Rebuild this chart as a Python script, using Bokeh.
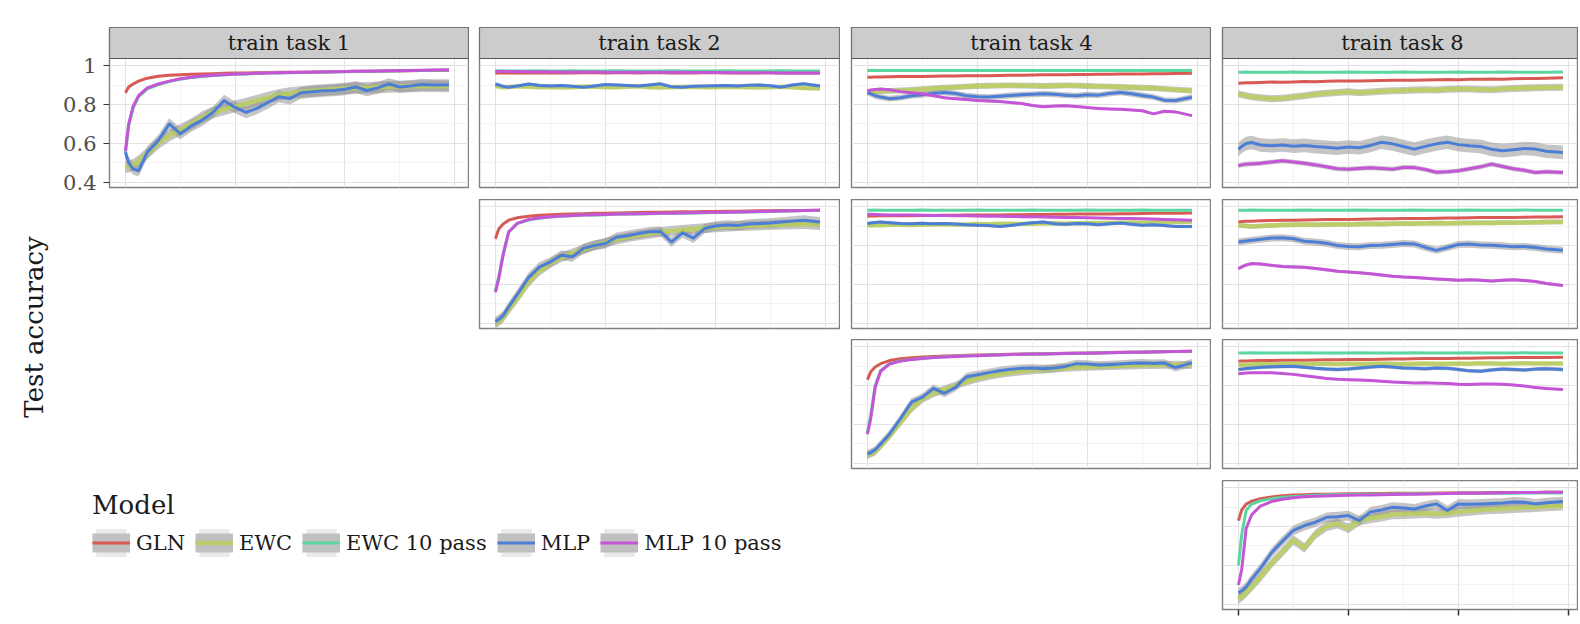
import numpy as np
from bokeh.plotting import figure
from bokeh.models import (Range1d, FixedTicker, Spacer, Legend, LegendItem, ColumnDataSource,
                          BoxAnnotation, Label, CustomLabelingPolicy)
from bokeh.layouts import row, column
from bokeh.embed import file_html
from bokeh.resources import INLINE
from bokeh.core.properties import value

# ---------------- data ----------------
MODELS = ["GLN", "EWC", "EWC 10 pass", "MLP", "MLP 10 pass"]
COLORS = ["#d85a55", "#b8cf5a", "#5cd6a0", "#4c7ed6", "#c455d6"]
TRAIN_TASKS = ["train task 1", "train task 2", "train task 4", "train task 8"]
Y_TICKS = [0.4, 0.6, 0.8, 1.0]
Y_TICK_LABELS = ["0.4", "0.6", "0.8", "1"]
Y_MINOR = [0.5, 0.7, 0.9]
X_TICKS = [0, 1, 2, 3]
X_MINOR = [0.5, 1.5, 2.5]

X = [0, 0.03, 0.07, 0.12, 0.2, 0.3, 0.4, 0.5,
     0.6, 0.7, 0.8, 0.9, 1.0, 1.1, 1.2, 1.3,
     1.4, 1.5, 1.6, 1.7, 1.8, 1.9, 2.0, 2.1,
     2.2, 2.3, 2.4, 2.5, 2.6, 2.7, 2.8, 2.95]

# test task 1 / train task 1
GLN_11 = [0.860, 0.890, 0.905, 0.920, 0.935, 0.945, 0.950, 0.953,
          0.955, 0.957, 0.958, 0.960, 0.961, 0.962, 0.963, 0.964,
          0.965, 0.966, 0.966, 0.967, 0.968, 0.968, 0.969, 0.970,
          0.970, 0.971, 0.972, 0.972, 0.973, 0.974, 0.974, 0.975]
EWC_11 = [0.480, 0.480, 0.490, 0.510, 0.550, 0.600, 0.640, 0.670,
          0.700, 0.735, 0.760, 0.775, 0.790, 0.805, 0.820, 0.835,
          0.850, 0.858, 0.864, 0.870, 0.874, 0.878, 0.882, 0.884,
          0.886, 0.888, 0.890, 0.892, 0.893, 0.894, 0.894, 0.893]
EWC10_11 = [0.550, 0.690, 0.780, 0.840, 0.880, 0.902, 0.918, 0.930,
            0.938, 0.944, 0.949, 0.952, 0.955, 0.957, 0.959, 0.961,
            0.962, 0.963, 0.964, 0.965, 0.966, 0.967, 0.968, 0.969,
            0.970, 0.971, 0.972, 0.973, 0.974, 0.975, 0.976, 0.977]
MLP_11 = [0.555, 0.500, 0.470, 0.460, 0.555, 0.615, 0.700, 0.650,
          0.690, 0.720, 0.760, 0.820, 0.785, 0.760, 0.780, 0.810,
          0.840, 0.830, 0.860, 0.865, 0.870, 0.872, 0.878, 0.890,
          0.872, 0.885, 0.905, 0.890, 0.895, 0.902, 0.900, 0.900]
MLP10_11 = [0.560, 0.700, 0.790, 0.845, 0.885, 0.905, 0.920, 0.932,
            0.940, 0.946, 0.950, 0.953, 0.956, 0.958, 0.960, 0.962,
            0.963, 0.964, 0.965, 0.966, 0.967, 0.968, 0.969, 0.970,
            0.971, 0.972, 0.973, 0.974, 0.975, 0.976, 0.977, 0.978]
SD_11 = [0.004, 0.030, 0.004, 0.030, 0.004]

# test task 1 / train task 2
GLN_12 = [0.960, 0.961, 0.961, 0.962, 0.961, 0.962, 0.962, 0.963,
          0.962, 0.962, 0.963, 0.963, 0.962, 0.963, 0.963, 0.962,
          0.963, 0.963, 0.962, 0.963, 0.962, 0.963, 0.963, 0.962,
          0.963, 0.962, 0.962, 0.963, 0.962, 0.962, 0.962, 0.961]
EWC_12 = [0.895, 0.892, 0.888, 0.890, 0.893, 0.891, 0.889, 0.890,
          0.887, 0.889, 0.892, 0.891, 0.889, 0.888, 0.891, 0.893,
          0.889, 0.887, 0.889, 0.891, 0.890, 0.888, 0.889, 0.891,
          0.890, 0.888, 0.887, 0.889, 0.891, 0.888, 0.884, 0.882]
EWC10_12 = [0.972, 0.972, 0.973, 0.972, 0.972, 0.972, 0.973, 0.972,
            0.972, 0.973, 0.972, 0.972, 0.972, 0.973, 0.972, 0.972,
            0.972, 0.972, 0.973, 0.972, 0.972, 0.972, 0.972, 0.973,
            0.972, 0.972, 0.972, 0.972, 0.973, 0.972, 0.972, 0.972]
MLP_12 = [0.905, 0.900, 0.893, 0.889, 0.895, 0.905, 0.898, 0.895,
          0.897, 0.893, 0.889, 0.895, 0.902, 0.900, 0.897, 0.895,
          0.900, 0.906, 0.891, 0.889, 0.893, 0.895, 0.896, 0.897,
          0.895, 0.899, 0.900, 0.896, 0.889, 0.900, 0.906, 0.895]
MLP10_12 = [0.970, 0.970, 0.969, 0.969, 0.969, 0.968, 0.968, 0.968,
            0.967, 0.967, 0.967, 0.967, 0.966, 0.966, 0.966, 0.966,
            0.965, 0.965, 0.965, 0.965, 0.964, 0.964, 0.964, 0.964,
            0.963, 0.963, 0.963, 0.963, 0.962, 0.962, 0.962, 0.961]
SD_12 = [0.004, 0.008, 0.003, 0.008, 0.004]

# test task 1 / train task 4
GLN_13 = [0.940, 0.940, 0.941, 0.941, 0.942, 0.943, 0.944, 0.944,
          0.945, 0.946, 0.946, 0.947, 0.948, 0.948, 0.949, 0.950,
          0.950, 0.951, 0.952, 0.952, 0.953, 0.954, 0.954, 0.955,
          0.955, 0.956, 0.957, 0.957, 0.958, 0.958, 0.959, 0.960]
EWC_13 = [0.862, 0.864, 0.866, 0.868, 0.870, 0.872, 0.875, 0.878,
          0.882, 0.886, 0.889, 0.892, 0.895, 0.896, 0.897, 0.898,
          0.897, 0.896, 0.895, 0.896, 0.898, 0.897, 0.895, 0.893,
          0.892, 0.890, 0.888, 0.886, 0.884, 0.880, 0.876, 0.872]
EWC10_13 = [0.974, 0.974, 0.975, 0.974, 0.974, 0.974, 0.975, 0.974,
            0.974, 0.974, 0.975, 0.974, 0.974, 0.974, 0.974, 0.975,
            0.974, 0.974, 0.974, 0.975, 0.974, 0.974, 0.974, 0.974,
            0.975, 0.974, 0.974, 0.974, 0.975, 0.974, 0.974, 0.974]
MLP_13 = [0.863, 0.855, 0.845, 0.838, 0.830, 0.835, 0.845, 0.850,
          0.858, 0.862, 0.856, 0.845, 0.840, 0.838, 0.842, 0.846,
          0.850, 0.852, 0.855, 0.852, 0.848, 0.845, 0.850, 0.848,
          0.856, 0.862, 0.855, 0.846, 0.838, 0.822, 0.820, 0.837]
MLP10_13 = [0.871, 0.874, 0.877, 0.880, 0.876, 0.866, 0.860, 0.855,
            0.845, 0.835, 0.830, 0.825, 0.820, 0.818, 0.815, 0.810,
            0.805, 0.795, 0.788, 0.792, 0.794, 0.790, 0.784, 0.780,
            0.777, 0.775, 0.772, 0.768, 0.752, 0.765, 0.762, 0.743]
SD_13 = [0.004, 0.015, 0.003, 0.015, 0.006]

# test task 1 / train task 8
GLN_14 = [0.909, 0.910, 0.911, 0.912, 0.913, 0.915, 0.914, 0.916,
          0.918, 0.917, 0.919, 0.920, 0.921, 0.920, 0.922, 0.923,
          0.924, 0.925, 0.924, 0.926, 0.927, 0.928, 0.927, 0.929,
          0.930, 0.931, 0.930, 0.932, 0.933, 0.934, 0.935, 0.937]
EWC_14 = [0.855, 0.850, 0.845, 0.840, 0.835, 0.830, 0.832, 0.838,
          0.845, 0.852, 0.858, 0.862, 0.865, 0.860, 0.864, 0.868,
          0.870, 0.872, 0.874, 0.876, 0.874, 0.878, 0.880, 0.879,
          0.877, 0.876, 0.879, 0.882, 0.884, 0.886, 0.887, 0.889]
EWC10_14 = [0.966, 0.966, 0.967, 0.966, 0.966, 0.966, 0.966, 0.967,
            0.966, 0.966, 0.966, 0.966, 0.967, 0.966, 0.966, 0.966,
            0.966, 0.967, 0.966, 0.966, 0.966, 0.966, 0.967, 0.966,
            0.966, 0.966, 0.967, 0.966, 0.966, 0.966, 0.966, 0.967]
MLP_14 = [0.570, 0.585, 0.600, 0.605, 0.592, 0.588, 0.592, 0.586,
          0.590, 0.584, 0.580, 0.576, 0.582, 0.578, 0.590, 0.606,
          0.598, 0.584, 0.571, 0.585, 0.598, 0.606, 0.594, 0.588,
          0.585, 0.570, 0.563, 0.568, 0.574, 0.571, 0.560, 0.554]
MLP10_14 = [0.486, 0.490, 0.494, 0.495, 0.498, 0.505, 0.511, 0.505,
            0.498, 0.490, 0.480, 0.470, 0.468, 0.472, 0.475, 0.472,
            0.468, 0.477, 0.476, 0.466, 0.452, 0.455, 0.460, 0.470,
            0.480, 0.494, 0.482, 0.470, 0.462, 0.451, 0.455, 0.451]
SD_14 = [0.004, 0.018, 0.003, 0.035, 0.012]

# test task 2 / train task 2
GLN_22 = [0.835, 0.885, 0.910, 0.930, 0.942, 0.950, 0.955, 0.958,
          0.960, 0.962, 0.963, 0.965, 0.966, 0.967, 0.968, 0.969,
          0.970, 0.971, 0.972, 0.973, 0.973, 0.974, 0.975, 0.976,
          0.976, 0.977, 0.978, 0.978, 0.979, 0.980, 0.980, 0.981]
EWC_22 = [0.400, 0.410, 0.430, 0.470, 0.530, 0.610, 0.670, 0.710,
          0.740, 0.760, 0.780, 0.800, 0.815, 0.830, 0.842, 0.852,
          0.860, 0.868, 0.875, 0.880, 0.885, 0.889, 0.893, 0.896,
          0.899, 0.901, 0.903, 0.905, 0.907, 0.908, 0.910, 0.905]
EWC10_22 = [0.570, 0.640, 0.760, 0.868, 0.913, 0.931, 0.940, 0.946,
            0.950, 0.953, 0.956, 0.957, 0.958, 0.960, 0.961, 0.962,
            0.963, 0.964, 0.965, 0.966, 0.967, 0.968, 0.969, 0.970,
            0.971, 0.972, 0.973, 0.975, 0.976, 0.977, 0.979, 0.980]
MLP_22 = [0.410, 0.420, 0.440, 0.485, 0.550, 0.635, 0.690, 0.715,
          0.750, 0.742, 0.785, 0.800, 0.810, 0.842, 0.850, 0.861,
          0.870, 0.872, 0.818, 0.865, 0.838, 0.887, 0.900, 0.905,
          0.902, 0.910, 0.913, 0.915, 0.920, 0.925, 0.930, 0.921]
MLP10_22 = [0.560, 0.630, 0.750, 0.870, 0.915, 0.933, 0.942, 0.947,
            0.951, 0.954, 0.957, 0.958, 0.959, 0.961, 0.962, 0.963,
            0.964, 0.965, 0.966, 0.967, 0.968, 0.969, 0.970, 0.971,
            0.972, 0.973, 0.974, 0.976, 0.977, 0.978, 0.980, 0.981]
SD_22 = [0.004, 0.025, 0.004, 0.025, 0.004]

# test task 2 / train task 4
GLN_23 = [0.950, 0.951, 0.951, 0.952, 0.952, 0.953, 0.953, 0.954,
          0.954, 0.955, 0.955, 0.956, 0.956, 0.957, 0.957, 0.958,
          0.958, 0.959, 0.959, 0.960, 0.960, 0.961, 0.961, 0.962,
          0.962, 0.963, 0.963, 0.964, 0.965, 0.965, 0.966, 0.967]
EWC_23 = [0.904, 0.903, 0.905, 0.904, 0.906, 0.907, 0.905, 0.906,
          0.908, 0.909, 0.907, 0.908, 0.910, 0.909, 0.911, 0.912,
          0.910, 0.912, 0.913, 0.914, 0.912, 0.914, 0.915, 0.916,
          0.915, 0.917, 0.918, 0.917, 0.919, 0.920, 0.920, 0.921]
EWC10_23 = [0.981, 0.981, 0.982, 0.981, 0.981, 0.981, 0.981, 0.982,
            0.981, 0.981, 0.981, 0.981, 0.982, 0.981, 0.981, 0.981,
            0.981, 0.982, 0.981, 0.981, 0.981, 0.981, 0.982, 0.981,
            0.981, 0.981, 0.981, 0.982, 0.981, 0.981, 0.981, 0.981]
MLP_23 = [0.913, 0.915, 0.918, 0.920, 0.917, 0.913, 0.912, 0.914,
          0.911, 0.913, 0.910, 0.906, 0.904, 0.902, 0.898, 0.903,
          0.910, 0.917, 0.920, 0.912, 0.909, 0.913, 0.911, 0.907,
          0.912, 0.915, 0.909, 0.904, 0.906, 0.902, 0.898, 0.897]
MLP10_23 = [0.960, 0.960, 0.959, 0.958, 0.957, 0.957, 0.956, 0.955,
            0.954, 0.954, 0.953, 0.952, 0.951, 0.950, 0.950, 0.949,
            0.948, 0.947, 0.946, 0.945, 0.944, 0.943, 0.942, 0.941,
            0.940, 0.939, 0.938, 0.937, 0.936, 0.934, 0.932, 0.930]
SD_23 = [0.003, 0.008, 0.003, 0.008, 0.004]

# test task 2 / train task 8
GLN_24 = [0.921, 0.923, 0.924, 0.925, 0.927, 0.928, 0.929, 0.930,
          0.931, 0.932, 0.933, 0.934, 0.934, 0.935, 0.936, 0.937,
          0.937, 0.938, 0.939, 0.939, 0.940, 0.941, 0.941, 0.942,
          0.943, 0.943, 0.944, 0.944, 0.945, 0.946, 0.946, 0.947]
EWC_24 = [0.904, 0.902, 0.900, 0.898, 0.900, 0.903, 0.905, 0.906,
          0.907, 0.906, 0.908, 0.909, 0.908, 0.910, 0.911, 0.910,
          0.912, 0.913, 0.912, 0.914, 0.915, 0.914, 0.915, 0.916,
          0.917, 0.916, 0.918, 0.917, 0.918, 0.919, 0.920, 0.921]
EWC10_24 = [0.981, 0.981, 0.981, 0.982, 0.981, 0.981, 0.981, 0.981,
            0.982, 0.981, 0.981, 0.981, 0.981, 0.982, 0.981, 0.981,
            0.981, 0.981, 0.982, 0.981, 0.981, 0.981, 0.981, 0.982,
            0.981, 0.981, 0.981, 0.981, 0.982, 0.981, 0.981, 0.981]
MLP_24 = [0.818, 0.820, 0.823, 0.827, 0.832, 0.838, 0.840, 0.835,
          0.822, 0.818, 0.812, 0.800, 0.795, 0.793, 0.800, 0.801,
          0.805, 0.810, 0.808, 0.790, 0.775, 0.790, 0.805, 0.807,
          0.803, 0.801, 0.798, 0.793, 0.795, 0.790, 0.782, 0.775]
MLP10_24 = [0.681, 0.690, 0.700, 0.707, 0.705, 0.698, 0.692, 0.690,
            0.688, 0.682, 0.675, 0.668, 0.664, 0.660, 0.655, 0.648,
            0.642, 0.638, 0.636, 0.632, 0.628, 0.625, 0.621, 0.624,
            0.622, 0.618, 0.621, 0.624, 0.620, 0.615, 0.605, 0.595]
SD_24 = [0.004, 0.012, 0.003, 0.018, 0.008]

# test task 4 / train task 4
GLN_33 = [0.830, 0.870, 0.895, 0.912, 0.928, 0.937, 0.942, 0.946,
          0.949, 0.951, 0.953, 0.955, 0.957, 0.958, 0.959, 0.960,
          0.961, 0.962, 0.963, 0.964, 0.965, 0.966, 0.967, 0.968,
          0.969, 0.970, 0.971, 0.972, 0.973, 0.974, 0.975, 0.976]
EWC_33 = [0.440, 0.450, 0.460, 0.490, 0.540, 0.610, 0.680, 0.730,
          0.760, 0.780, 0.800, 0.820, 0.835, 0.848, 0.858, 0.866,
          0.872, 0.878, 0.882, 0.886, 0.890, 0.893, 0.895, 0.897,
          0.899, 0.901, 0.902, 0.904, 0.905, 0.906, 0.907, 0.905]
EWC10_33 = [0.560, 0.650, 0.800, 0.876, 0.912, 0.926, 0.934, 0.940,
            0.944, 0.947, 0.950, 0.952, 0.954, 0.956, 0.957, 0.959,
            0.960, 0.961, 0.962, 0.963, 0.964, 0.965, 0.966, 0.967,
            0.968, 0.969, 0.970, 0.971, 0.972, 0.973, 0.974, 0.975]
MLP_33 = [0.450, 0.455, 0.470, 0.500, 0.550, 0.630, 0.715, 0.740,
          0.785, 0.760, 0.790, 0.845, 0.855, 0.866, 0.876, 0.883,
          0.888, 0.890, 0.886, 0.890, 0.898, 0.912, 0.910, 0.905,
          0.907, 0.910, 0.914, 0.916, 0.913, 0.915, 0.892, 0.916]
MLP10_33 = [0.550, 0.630, 0.790, 0.873, 0.910, 0.925, 0.933, 0.939,
            0.943, 0.946, 0.949, 0.951, 0.953, 0.955, 0.957, 0.959,
            0.960, 0.961, 0.962, 0.963, 0.964, 0.965, 0.966, 0.967,
            0.968, 0.969, 0.970, 0.971, 0.972, 0.973, 0.975, 0.976]
SD_33 = [0.004, 0.020, 0.004, 0.020, 0.004]

# test task 4 / train task 8
GLN_34 = [0.925, 0.926, 0.926, 0.927, 0.928, 0.928, 0.929, 0.930,
          0.930, 0.931, 0.932, 0.932, 0.933, 0.934, 0.934, 0.935,
          0.936, 0.936, 0.937, 0.938, 0.938, 0.939, 0.940, 0.940,
          0.941, 0.942, 0.942, 0.943, 0.943, 0.944, 0.944, 0.945]
EWC_34 = [0.907, 0.905, 0.906, 0.908, 0.910, 0.909, 0.910, 0.911,
          0.910, 0.912, 0.911, 0.910, 0.912, 0.911, 0.912, 0.913,
          0.911, 0.910, 0.912, 0.913, 0.911, 0.912, 0.913, 0.912,
          0.914, 0.913, 0.912, 0.913, 0.914, 0.913, 0.913, 0.913]
EWC10_34 = [0.967, 0.967, 0.967, 0.968, 0.967, 0.967, 0.967, 0.967,
            0.968, 0.967, 0.967, 0.967, 0.967, 0.968, 0.967, 0.967,
            0.967, 0.967, 0.968, 0.967, 0.967, 0.967, 0.967, 0.968,
            0.967, 0.967, 0.967, 0.967, 0.968, 0.967, 0.967, 0.967]
MLP_34 = [0.882, 0.884, 0.887, 0.890, 0.893, 0.896, 0.898, 0.899,
          0.894, 0.888, 0.884, 0.882, 0.885, 0.890, 0.895, 0.899,
          0.895, 0.890, 0.888, 0.886, 0.890, 0.888, 0.882, 0.875,
          0.873, 0.880, 0.884, 0.882, 0.879, 0.884, 0.886, 0.882]
MLP10_34 = [0.860, 0.862, 0.864, 0.865, 0.866, 0.865, 0.862, 0.857,
            0.850, 0.843, 0.836, 0.832, 0.830, 0.828, 0.826, 0.822,
            0.818, 0.815, 0.813, 0.814, 0.812, 0.810, 0.806, 0.805,
            0.807, 0.808, 0.806, 0.802, 0.797, 0.790, 0.785, 0.779]
SD_34 = [0.003, 0.008, 0.003, 0.010, 0.005]

# test task 8 / train task 8
GLN_44 = [0.830, 0.885, 0.915, 0.930, 0.942, 0.952, 0.958, 0.961,
          0.963, 0.965, 0.966, 0.967, 0.968, 0.968, 0.969, 0.969,
          0.970, 0.970, 0.971, 0.971, 0.972, 0.972, 0.973, 0.973,
          0.973, 0.974, 0.974, 0.975, 0.975, 0.975, 0.976, 0.976]
EWC_44 = [0.427, 0.440, 0.460, 0.490, 0.540, 0.610, 0.670, 0.730,
          0.690, 0.760, 0.800, 0.815, 0.790, 0.830, 0.842, 0.850,
          0.862, 0.864, 0.866, 0.868, 0.865, 0.868, 0.875, 0.880,
          0.885, 0.889, 0.891, 0.894, 0.897, 0.899, 0.903, 0.907]
EWC10_44 = [0.600, 0.760, 0.882, 0.915, 0.932, 0.943, 0.950, 0.954,
            0.957, 0.960, 0.962, 0.963, 0.964, 0.965, 0.966, 0.966,
            0.967, 0.967, 0.968, 0.968, 0.969, 0.969, 0.970, 0.970,
            0.970, 0.971, 0.971, 0.971, 0.972, 0.972, 0.972, 0.972]
MLP_44 = [0.460, 0.470, 0.490, 0.530, 0.585, 0.665, 0.725, 0.780,
          0.805, 0.822, 0.847, 0.850, 0.856, 0.830, 0.875, 0.885,
          0.899, 0.895, 0.890, 0.905, 0.916, 0.882, 0.916, 0.914,
          0.916, 0.918, 0.920, 0.926, 0.924, 0.916, 0.922, 0.928]
MLP10_44 = [0.500, 0.580, 0.790, 0.860, 0.905, 0.928, 0.940, 0.947,
            0.952, 0.955, 0.957, 0.959, 0.960, 0.961, 0.962, 0.963,
            0.964, 0.965, 0.966, 0.967, 0.968, 0.969, 0.970, 0.970,
            0.971, 0.972, 0.973, 0.974, 0.974, 0.975, 0.976, 0.976]
SD_44 = [0.004, 0.025, 0.004, 0.025, 0.004]

# (row = test task, col = train task)
PANELS = [
    (0, 0, [GLN_11, EWC_11, EWC10_11, MLP_11, MLP10_11], SD_11),
    (0, 1, [GLN_12, EWC_12, EWC10_12, MLP_12, MLP10_12], SD_12),
    (0, 2, [GLN_13, EWC_13, EWC10_13, MLP_13, MLP10_13], SD_13),
    (0, 3, [GLN_14, EWC_14, EWC10_14, MLP_14, MLP10_14], SD_14),
    (1, 1, [GLN_22, EWC_22, EWC10_22, MLP_22, MLP10_22], SD_22),
    (1, 2, [GLN_23, EWC_23, EWC10_23, MLP_23, MLP10_23], SD_23),
    (1, 3, [GLN_24, EWC_24, EWC10_24, MLP_24, MLP10_24], SD_24),
    (2, 2, [GLN_33, EWC_33, EWC10_33, MLP_33, MLP10_33], SD_33),
    (2, 3, [GLN_34, EWC_34, EWC10_34, MLP_34, MLP10_34], SD_34),
    (3, 3, [GLN_44, EWC_44, EWC10_44, MLP_44, MLP10_44], SD_44),
]

# ---------------- style / geometry ----------------
FONT = "DejaVu Serif"
LINE_W = [3, 4.5, 3, 3, 3]
LINE_ALPHA = [1.0, 0.85, 1.0, 1.0, 1.0]
RIBBON = "#8c8c8c"
PX_PER_X = 110.0
X_LO = -0.145
Y_LO, Y_HI = 0.374, 1.036
LABEL_W = 60
FIG_W = [409, 371, 371, 367]
MB_LEFT = [48, 10, 11, 11]
PANEL_H = 129
ROW_H = [141, 140, 141, 136]
MB_BOTTOM = [12, 11, 12, 7]
TOP_PAD = 27
STRIP_H = 31
STRIP_CENTER_PX = 180
TOTAL_H = TOP_PAD + STRIP_H + sum(ROW_H)
PX_PER_Y = PANEL_H / (Y_HI - Y_LO)
Y_STRIP_TOP = Y_HI + STRIP_H / PX_PER_Y

# the x tick labels of the reference fall below the visible window: keep tick marks only
NO_LABELS = CustomLabelingPolicy(code="""
for (let i = 0; i < indices.size; i++) { indices.set(i, false) }
return indices
""")


def frame_w(c):
    return FIG_W[c] - MB_LEFT[c] - 1


def make_panel(r, c, series, sd):
    fw = frame_w(c)
    top = Y_STRIP_TOP if r == 0 else Y_HI
    h = ROW_H[r] + (STRIP_H if r == 0 else 0)
    p = figure(width=FIG_W[c], height=h, output_backend="svg", toolbar_location=None,
               x_range=Range1d(X_LO, X_LO + fw / PX_PER_X), y_range=Range1d(Y_LO, top),
               min_border_left=MB_LEFT[c], min_border_right=1, min_border_top=0,
               min_border_bottom=MB_BOTTOM[r])
    p.background_fill_color = "white"
    p.border_fill_color = "white"
    p.outline_line_color = "#7f7f7f"
    p.outline_line_width = 1.4
    xt = FixedTicker(ticks=X_TICKS, minor_ticks=X_MINOR)
    yt = FixedTicker(ticks=Y_TICKS, minor_ticks=Y_MINOR)
    p.xaxis.ticker = xt
    p.yaxis.ticker = yt
    p.xgrid.ticker = xt
    p.ygrid.ticker = yt
    p.grid.grid_line_color = "#e2e2e2"
    p.grid.grid_line_width = 1.1
    p.grid.minor_grid_line_color = "#eeeeee"
    p.grid.minor_grid_line_width = 0.7

    if r == 0 and c == 0:
        p.yaxis.major_label_overrides = dict(zip(Y_TICKS, Y_TICK_LABELS))
        p.yaxis.major_label_text_font = FONT
        p.yaxis.major_label_text_font_size = "21px"
        p.yaxis.major_label_text_color = "#4d4d4d"
        p.yaxis.axis_line_color = None
        p.yaxis.major_tick_line_color = "#333333"
        p.yaxis.major_tick_line_width = 1.2
        p.yaxis.major_tick_out = 6
        p.yaxis.major_tick_in = 0
        p.yaxis.minor_tick_line_color = None
        p.yaxis.major_label_standoff = 7
    else:
        p.yaxis.visible = False

    if r == 3 and c == 3:
        p.xaxis.major_label_policy = NO_LABELS
        p.xaxis.major_label_text_font_size = "0px"
        p.xaxis.major_label_standoff = 0
        p.xaxis.axis_line_color = None
        p.xaxis.major_tick_line_color = "#333333"
        p.xaxis.major_tick_line_width = 1.5
        p.xaxis.major_tick_out = 6
        p.xaxis.major_tick_in = 0
        p.xaxis.minor_tick_line_color = None
    else:
        p.xaxis.visible = False

    srcs = []
    for vals, s in zip(series, sd):
        v = np.asarray(vals, dtype=float)
        srcs.append(ColumnDataSource(dict(x=X, y=v, lo=v - s, hi=v + s)))
    for src in srcs:
        p.varea(x="x", y1="lo", y2="hi", source=src, fill_color=RIBBON, fill_alpha=0.5)
    for i, src in enumerate(srcs):
        p.line(x="x", y="y", source=src, line_color=COLORS[i], line_width=LINE_W[i],
               line_alpha=LINE_ALPHA[i], line_join="round")

    if r == 0:
        # facet strip on top of the panel
        p.add_layout(BoxAnnotation(bottom=Y_HI, fill_color="#cccccc", fill_alpha=1.0,
                                   line_color="#555555", line_width=1.2, line_alpha=1.0))
        p.add_layout(Label(x=X_LO + STRIP_CENTER_PX / PX_PER_X, y=(Y_HI + Y_STRIP_TOP) / 2,
                           text=TRAIN_TASKS[c], text_font=FONT, text_font_size="21px",
                           text_align="center", text_baseline="middle", text_color="#1a1a1a"))
    return p


panels = {}
for r, c, series, sd in PANELS:
    panels[(r, c)] = make_panel(r, c, series, sd)

# y-axis title
lab = figure(width=LABEL_W, height=TOTAL_H, output_backend="svg", toolbar_location=None,
             x_range=Range1d(0, LABEL_W), y_range=Range1d(0, TOTAL_H), min_border=0)
lab.axis.visible = False
lab.grid.visible = False
lab.outline_line_color = None
lab.text(x=[33.5], y=[TOTAL_H - 326.5], text=["Test accuracy"], angle=np.pi / 2,
         text_font=value(FONT), text_font_size="26px", text_align="center",
         text_baseline="middle", text_color="#1a1a1a")

# legend
leg_w = FIG_W[0] + FIG_W[1] + FIG_W[2]
leg = figure(width=leg_w, height=ROW_H[3], output_backend="svg", toolbar_location=None,
             x_range=Range1d(0, 1), y_range=Range1d(0, 1), min_border=0)
leg.axis.visible = False
leg.grid.visible = False
leg.outline_line_color = None
items = []
for i, (name, color) in enumerate(zip(MODELS, COLORS)):
    dummy = ColumnDataSource(dict(x=[np.nan], y=[np.nan], y1=[np.nan], y2=[np.nan]))
    bg = leg.varea(x="x", y1="y1", y2="y2", source=dummy, fill_color="#eaeaea")
    band = leg.line(x="x", y="y", source=dummy, line_color="#c0c0c0", line_width=19)
    ln = leg.line(x="x", y="y", source=dummy, line_color=color,
                  line_width=LINE_W[i], line_alpha=LINE_ALPHA[i])
    items.append(LegendItem(label=name, renderers=[bg, band, ln]))
legend = Legend(items=items, orientation="horizontal", location=(32, 49),
                title="Model", title_text_font=FONT, title_text_font_size="26px",
                title_text_font_style="normal", title_text_color="#1a1a1a", title_standoff=5,
                label_text_font=FONT, label_text_font_size="21px", label_text_color="#1a1a1a",
                glyph_width=38, glyph_height=35, label_standoff=6, spacing=10,
                padding=0, margin=0, border_line_color=None, background_fill_alpha=0)
leg.add_layout(legend)

row1 = row(panels[(0, 0)], panels[(0, 1)], panels[(0, 2)], panels[(0, 3)], spacing=0)
row2 = row(Spacer(width=FIG_W[0], height=ROW_H[1]), panels[(1, 1)], panels[(1, 2)], panels[(1, 3)], spacing=0)
row3 = row(Spacer(width=FIG_W[0] + FIG_W[1], height=ROW_H[2]), panels[(2, 2)], panels[(2, 3)], spacing=0)
row4 = row(leg, panels[(3, 3)], spacing=0)
grid = column(Spacer(width=sum(FIG_W), height=TOP_PAD), row1, row2, row3, row4, spacing=0)
layout = row(lab, grid, spacing=0)

open("out.html", "w").write(file_html(layout, INLINE))
